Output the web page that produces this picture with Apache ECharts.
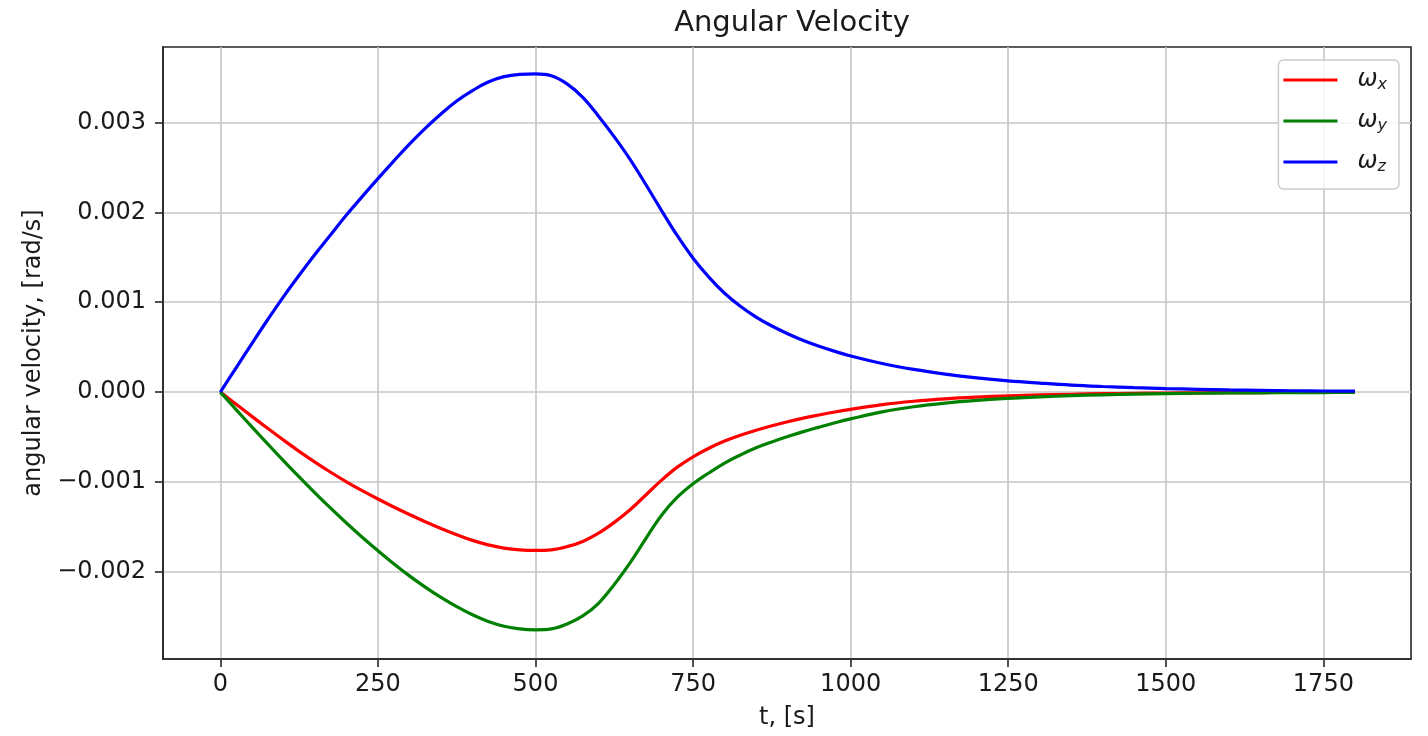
<!DOCTYPE html>
<html>
<head>
<meta charset="utf-8">
<script src="https://cdn.jsdelivr.net/npm/echarts@6/dist/echarts.min.js"></script>
<style>
  html, body { margin: 0; padding: 0; background: #ffffff; }
  #chart { width: 1428px; height: 736px; }
</style>
</head>
<body>
<div id="chart"></div>
<script>
// Time samples, s
const timeS = [
  0, 25, 50, 75, 100, 125, 150, 175, 200, 225, 250, 275, 300, 325, 350, 375, 400, 425, 450, 475, 500,
  525, 550, 575, 600, 625, 650, 675, 700, 725, 750, 775, 800, 825, 850, 875, 900, 925, 950, 975, 1000,
  1050, 1100, 1150, 1200, 1250, 1300, 1350, 1400, 1450, 1500, 1550, 1600, 1650, 1700, 1750, 1800
];

// Angular velocity components, rad/s
const omegaX = [
  0, -0.000135, -0.00027, -0.000403, -0.000533, -0.000659, -0.000779, -0.000892, -0.000998, -0.001097, -0.00119,
  -0.001278, -0.001362, -0.001442, -0.001517, -0.001587, -0.00165, -0.0017, -0.001736, -0.001756, -0.001762,
  -0.001755, -0.00172, -0.001662, -0.00157, -0.00145, -0.00131, -0.001145, -0.00098, -0.000835, -0.00072,
  -0.000625, -0.000545, -0.00048, -0.000425, -0.000375, -0.00033, -0.00029, -0.000255, -0.000222, -0.000193,
  -0.00014, -0.000102, -0.000075, -0.000056, -0.000042, -0.000032, -0.000024, -0.000018, -0.000014, -0.00001,
  -0.000008, -0.000006, -0.000005, -0.000004, -0.000003, -0.000002
];
const omegaY = [
  0, -0.000195, -0.000387, -0.000576, -0.000762, -0.000944, -0.001121, -0.001292, -0.001457, -0.001615, -0.001765,
  -0.00191, -0.002045, -0.00217, -0.002285, -0.002388, -0.002478, -0.002553, -0.002605, -0.002635, -0.002645,
  -0.002635, -0.00258, -0.00249, -0.00235, -0.00214, -0.0019, -0.00163, -0.00137, -0.00117, -0.00102,
  -0.0009, -0.00079, -0.0007, -0.00062, -0.000555, -0.000495, -0.00044, -0.00039, -0.000342, -0.000298,
  -0.00022, -0.000163, -0.000122, -0.000092, -0.00007, -0.000053, -0.00004, -0.00003, -0.000023, -0.000017,
  -0.000013, -0.00001, -0.000008, -0.000006, -0.000005, -0.000004
];
const omegaZ = [
  0, 0.00027, 0.00054, 0.000805, 0.00106, 0.0013, 0.00153, 0.00175, 0.00197, 0.002175, 0.002375,
  0.00257, 0.00276, 0.002935, 0.003095, 0.00324, 0.003355, 0.00345, 0.00351, 0.003535, 0.00354,
  0.00352, 0.00343, 0.00328, 0.00307, 0.00284, 0.00259, 0.00231, 0.00202, 0.00174, 0.00149,
  0.00128, 0.0011, 0.000955, 0.000835, 0.000735, 0.00065, 0.000575, 0.00051, 0.000453, 0.000402,
  0.000318, 0.000252, 0.0002, 0.000158, 0.000125, 0.0001, 0.000078, 0.000062, 0.000049, 0.000039,
  0.000031, 0.000024, 0.000019, 0.000015, 0.000012, 0.00001
];

// Axis ticks
const xTicks = [0, 250, 500, 750, 1000, 1250, 1500, 1750];
const yTicks = [-0.002, -0.001, 0, 0.001, 0.002, 0.003];

const seriesNames = ['omega_x', 'omega_y', 'omega_z'];
const seriesSubs = { omega_x: 'x', omega_y: 'y', omega_z: 'z' };
const seriesColors = ['#ff0000', '#008000', '#0000ff'];
const seriesValues = [omegaX, omegaY, omegaZ];

const FONT = 'DejaVu Sans';
const INK = '#1a1a1a';
const FRAME = '#262626';
const GRID_GRAY = '#c6c6c6';

const chart = echarts.init(document.getElementById('chart'), null, { renderer: 'canvas' });

const pairs = (vals) => timeS.map((t, i) => [t, vals[i]]);

chart.setOption({
  animation: false,
  backgroundColor: '#ffffff',
  title: {
    text: 'Angular Velocity',
    left: 787,
    textAlign: 'center',
    top: 4,
    textStyle: { fontFamily: FONT, fontSize: 29, fontWeight: 'normal', color: INK }
  },
  grid: {
    left: 163, right: 17, top: 47, bottom: 77,
    show: true, borderColor: FRAME, borderWidth: 1.6,
    backgroundColor: 'transparent', containLabel: false
  },
  legend: {
    orient: 'vertical',
    right: 29,
    top: 60,
    icon: 'rect',
    itemWidth: 54,
    itemHeight: 3,
    itemGap: 15,
    padding: [7, 12, 14, 5],
    backgroundColor: 'rgba(255,255,255,0.8)',
    borderColor: '#cccccc',
    borderWidth: 1.5,
    borderRadius: 5,
    data: seriesNames,
    formatter: (name) => '{w|ω}{s|' + seriesSubs[name] + '}',
    textStyle: {
      padding: [0, 0, 0, 15],
      rich: {
        w: { fontFamily: FONT, fontSize: 24, fontStyle: 'italic', color: INK, lineHeight: 20 },
        s: { fontFamily: FONT, fontSize: 16, fontStyle: 'italic', color: INK, padding: [10, 0, 0, 0], lineHeight: 20 }
      }
    }
  },
  xAxis: {
    type: 'value',
    min: -91,
    max: 1889,
    name: 't, [s]',
    nameLocation: 'middle',
    nameGap: 47,
    nameTextStyle: { fontFamily: FONT, fontSize: 24, color: INK },
    axisLine: { show: true, onZero: false, lineStyle: { color: FRAME, width: 1.6 } },
    axisTick: { show: true, length: 8, customValues: xTicks, lineStyle: { color: FRAME, width: 1.6 } },
    axisLabel: {
      customValues: xTicks, fontFamily: FONT, fontSize: 24, color: INK, margin: 14,
      formatter: (v) => String(v)
    },
    splitLine: { show: true, lineStyle: { color: GRID_GRAY, width: 1.6 } }
  },
  yAxis: {
    type: 'value',
    min: -0.00297,
    max: 0.00384,
    name: 'angular velocity, [rad/s]',
    nameLocation: 'middle',
    nameGap: 117,
    nameTextStyle: { fontFamily: FONT, fontSize: 24, color: INK },
    axisLine: { show: true, onZero: false, lineStyle: { color: FRAME, width: 1.6 } },
    axisTick: { show: true, length: 8, customValues: yTicks, lineStyle: { color: FRAME, width: 1.6 } },
    axisLabel: {
      customValues: yTicks,
      fontFamily: FONT, fontSize: 24, color: INK, margin: 17,
      formatter: (v) => {
        const s = Math.abs(v).toFixed(3);
        return v < -1e-9 ? '\u2212' + s : s;
      }
    },
    splitLine: { show: true, lineStyle: { color: GRID_GRAY, width: 1.6 } }
  },
  series: seriesNames.map((name, k) => ({
    name: name,
    type: 'line',
    data: pairs(seriesValues[k]),
    symbol: 'none',
    showSymbol: false,
    smooth: 0.4,
    color: seriesColors[k],
    lineStyle: { color: seriesColors[k], width: 3.2 },
    z: 3 + k
  }))
});
</script>
</body>
</html>
